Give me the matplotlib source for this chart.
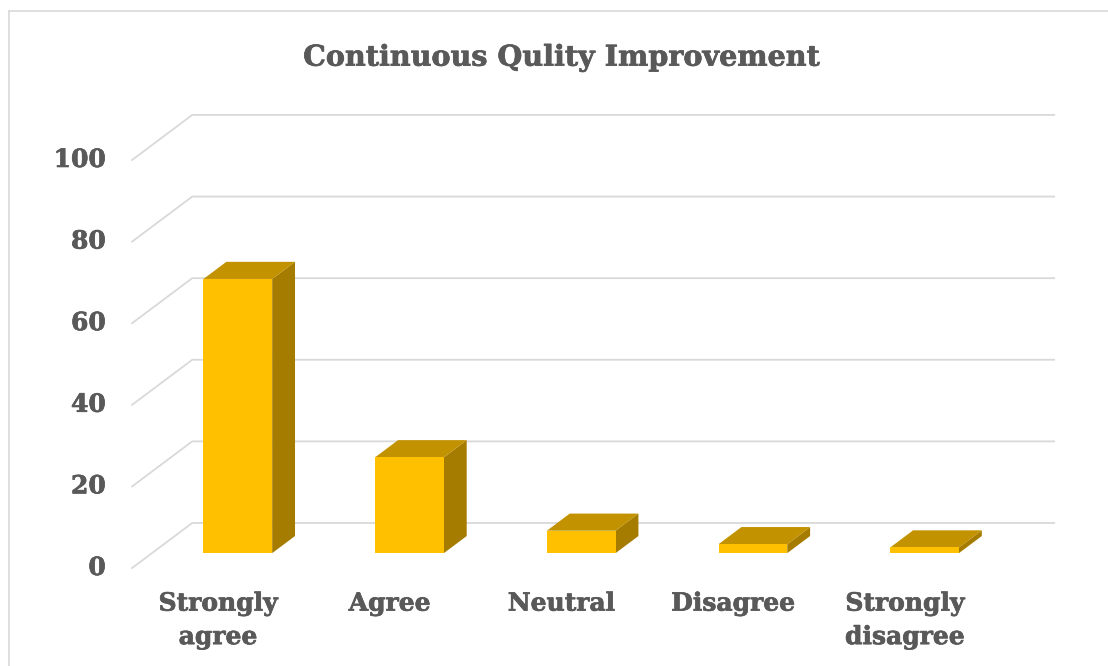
import matplotlib.pyplot as plt
from matplotlib.patches import Polygon
from matplotlib.lines import Line2D
import matplotlib.patheffects as pe

# chart data
categories = ["Strongly\nagree", "Agree", "Neutral", "Disagree", "Strongly\ndisagree"]
values = [67.2, 23.5, 5.5, 2.2, 1.4]
yticks = [0, 20, 40, 60, 80, 100]
title = "Continuous Qulity Improvement"

# oblique "3d" look: depth 0 = front of floor, depth 1 = back wall
DX = 0.35    # shift in category units per unit of depth
DY = 11.03   # shift in value units per unit of depth
bar_w = 0.40
d_front, d_back = 0.33, 0.71

front_col = "#FFC000"
top_col = "#C29200"
side_col = "#A67C00"
grid_col = "#D9D9D9"
txt_col = "#595959"
font = "DejaVu Serif"
heavy = [pe.withStroke(linewidth=0.5, foreground=txt_col)]  # cambria bold is a bit heavier


def proj(x, v, d):
    return (x + d * DX, v + d * DY)


fig = plt.figure(figsize=(11.08, 6.66), dpi=100)
ax = fig.add_axes([0, 0, 1, 1])
ax.set_xlim(-1.2697, 5.1835)
ax.set_ylim(-24.02, 139.2)
ax.axis("off")

n = len(categories)
wall_l, wall_r = -0.5, n - 0.48

# gridlines: diagonal on the side + horizontal on the back wall
for t in yticks:
    p0 = proj(wall_l, t, 0)
    p1 = proj(wall_l, t, 1)
    p2 = proj(wall_r, t, 1)
    ax.plot([p0[0], p1[0], p2[0]], [p0[1], p1[1], p2[1]], color=grid_col, lw=1.3, zorder=1,
            solid_joinstyle="miter")
    ax.annotate(str(t), xy=p0, xytext=(-19, 0), textcoords="offset points",
                ha="right", va="center", fontsize=18, fontweight="bold",
                color=txt_col, family=font, path_effects=heavy)

# bars
for i, v in enumerate(values):
    xl, xr = i - bar_w / 2, i + bar_w / 2
    front = [proj(xl, 0, d_front), proj(xr, 0, d_front), proj(xr, v, d_front), proj(xl, v, d_front)]
    side = [proj(xr, 0, d_front), proj(xr, 0, d_back), proj(xr, v, d_back), proj(xr, v, d_front)]
    top = [proj(xl, v, d_front), proj(xr, v, d_front), proj(xr, v, d_back), proj(xl, v, d_back)]
    ax.add_patch(Polygon(side, closed=True, facecolor=side_col, edgecolor="none", zorder=3))
    ax.add_patch(Polygon(top, closed=True, facecolor=top_col, edgecolor="none", zorder=3))
    ax.add_patch(Polygon(front, closed=True, facecolor=front_col, edgecolor="none", zorder=4))

# category labels
for i, lab in enumerate(categories):
    ax.annotate(lab, xy=proj(i, 0, 0), xytext=(0, -17), textcoords="offset points",
                ha="center", va="top", fontsize=18, fontweight="bold",
                color=txt_col, family=font, linespacing=1.5, path_effects=heavy)

fig.text(0.5068, 0.9014, title, ha="center", va="baseline", fontsize=20.6,
         fontweight="bold", color=txt_col, family=font, path_effects=heavy)

# chart frame (only top and left edges visible)
fig.add_artist(Line2D([9 / 1108, 9 / 1108], [0, 1 - 11 / 666], color=grid_col, lw=1.2))
fig.add_artist(Line2D([9 / 1108, 1], [1 - 11 / 666, 1 - 11 / 666], color=grid_col, lw=1.2))

fig.savefig("out.png", dpi=100, facecolor="white")
